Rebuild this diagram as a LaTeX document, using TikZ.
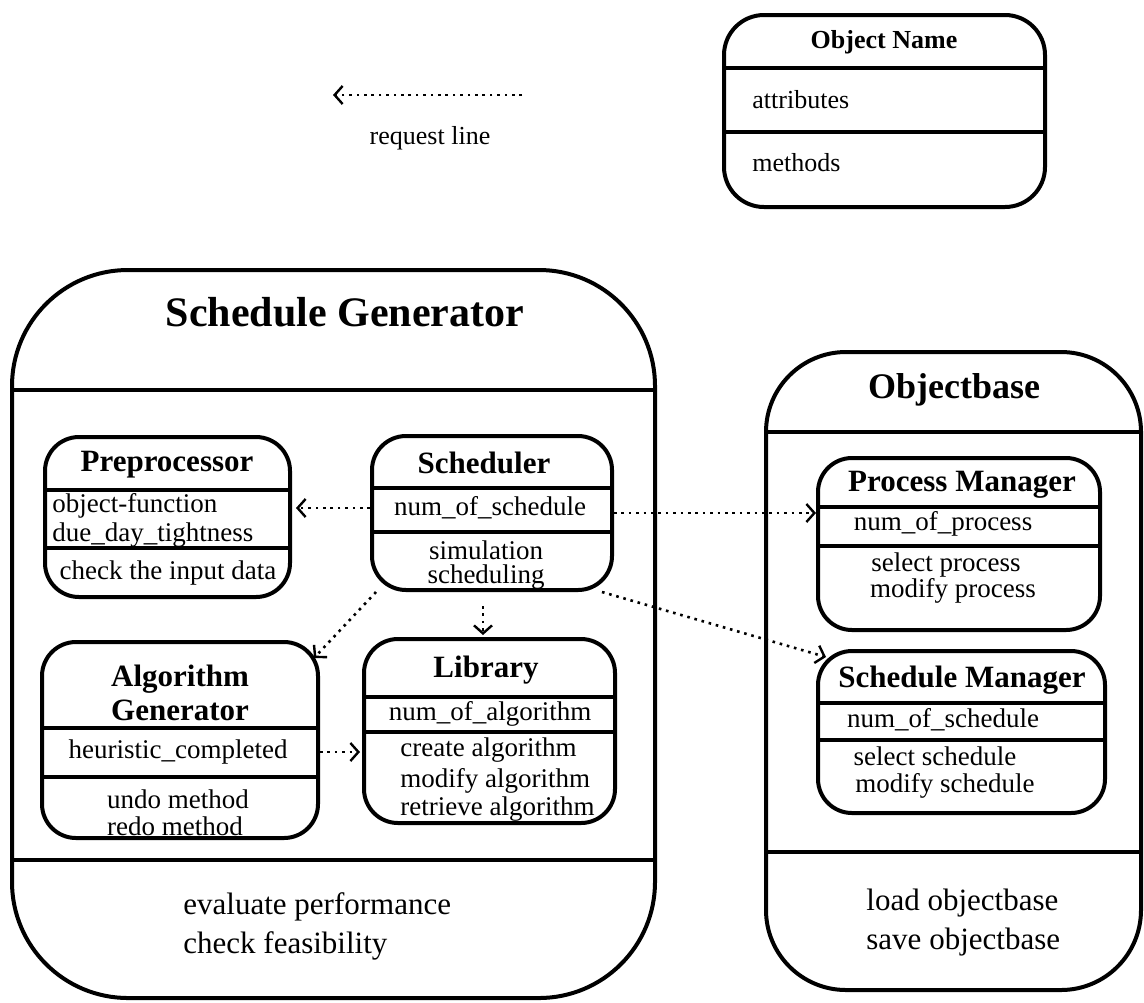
\documentclass[tikz,border=0pt]{standalone}
\usepackage{fontspec}
\setmainfont{Liberation Serif}
\usetikzlibrary{arrows.meta}
\begin{document}
\begin{tikzpicture}[x=0.5pt,y=-0.5pt,
  frame/.style={draw, line width=2pt, rectangle, inner sep=0pt},
  obj/.style={frame, rounded corners=17pt},
  sep/.style={line width=2pt},
  bigttl/.style={font=\fontsize{21}{23}\selectfont\bfseries, inner sep=0pt},
  ttl/.style={font=\fontsize{15.5}{17}\selectfont\bfseries, inner sep=0pt},
  txt/.style={font=\fontsize{13.5}{14.5}\selectfont, inner sep=0pt},
  legtxt/.style={font=\fontsize{13}{14}\selectfont, inner sep=0pt},
  foot/.style={font=\fontsize{15.5}{19.5}\selectfont, inner sep=0pt, align=left},
  req/.style={line width=1.3pt, dash pattern=on 1.3pt off 2.4pt,
    -{Straight Barb[length=4pt,width=9pt,line width=1.2pt]}},
]
\useasboundingbox (0,0) rectangle (1144,1002);

% ---------- legend ----------
\coordinate (rqs) at (522,95);
\coordinate (rqe) at (333,95);
\draw[req] (rqs) -- (rqe);
\node[legtxt] (rqlabel) at (430,138) {request line};

\node[frame, rounded corners=20pt, minimum width=160.5pt, minimum height=96pt] (leg) at (884.5,111) {};
\draw[sep] (leg.west |- 0,68) -- (leg.east |- 0,68);
\draw[sep] (leg.west |- 0,132) -- (leg.east |- 0,132);
\node[legtxt, font=\fontsize{13}{14}\selectfont\bfseries] (legname) at (884,42) {Object Name};
\node[legtxt, anchor=west] (legattr) at (752,100) {attributes};
\node[legtxt, anchor=west] (legmeth) at (752,163) {methods};

% ---------- Schedule Generator ----------
\node[frame, rounded corners=58pt, minimum width=321.5pt, minimum height=364pt] (sg) at (333.5,634) {};
\draw[sep] (sg.west |- 0,390) -- (sg.east |- 0,390);
\draw[sep] (sg.west |- 0,860) -- (sg.east |- 0,860);
\node[bigttl] (sgname) at (345,312) {Schedule Generator};
\node[foot, anchor=west] (sgmeth) at (183,926) {evaluate performance\\check feasibility};

% Preprocessor
\node[obj, minimum width=122.5pt, minimum height=80pt] (pre) at (167.5,517) {};
\draw[sep] (pre.west |- 0,490) -- (pre.east |- 0,490);
\draw[sep] (pre.west |- 0,548) -- (pre.east |- 0,548);
\node[ttl] (prename) at (167,465) {Preprocessor};
\node[txt, anchor=west] (prea1) at (52,506) {object-function};
\node[txt, anchor=west] (prea2) at (52,535) {due\_day\_tightness};
\node[txt] (prem1) at (168,573) {check the input data};

% Scheduler
\node[obj, minimum width=120pt, minimum height=77pt] (sch) at (492,513) {};
\draw[sep] (sch.west |- 0,488) -- (sch.east |- 0,488);
\draw[sep] (sch.west |- 0,532) -- (sch.east |- 0,532);
\node[ttl] (schname) at (484,463) {Scheduler};
\node[txt] (scha1) at (490,508) {num\_of\_schedule};
\node[txt] (schm1) at (486,550) {simulation};
\node[txt] (schm2) at (486,577) {scheduling};

% Algorithm Generator
\node[obj, minimum width=138pt, minimum height=98pt] (ag) at (180,740) {};
\draw[sep] (ag.west |- 0,728) -- (ag.east |- 0,728);
\draw[sep] (ag.west |- 0,777) -- (ag.east |- 0,777);
\node[ttl, align=center, font=\fontsize{15.5}{17}\selectfont\bfseries] (agname) at (180,693) {Algorithm\\Generator};
\node[txt] (aga1) at (178,752) {heuristic\_completed};
\node[txt] (agm1) at (178,799) {undo method};
\node[txt] (agm2) at (175,826) {redo method};

% Library
\node[obj, minimum width=125.5pt, minimum height=92pt] (lib) at (489.5,731) {};
\draw[sep] (lib.west |- 0,697) -- (lib.east |- 0,697);
\draw[sep] (lib.west |- 0,732) -- (lib.east |- 0,732);
\node[ttl] (libname) at (486,670) {Library};
\node[txt] (liba1) at (490,714) {num\_of\_algorithm};
\node[txt, anchor=west] (libm1) at (400,750) {create algorithm};
\node[txt, anchor=west] (libm2) at (400,781) {modify algorithm};
\node[txt, anchor=west] (libm3) at (400,809) {retrieve algorithm};

% ---------- Objectbase ----------
\node[frame, rounded corners=40pt, minimum width=187.5pt, minimum height=319pt] (ob) at (953.5,671) {};
\draw[sep] (ob.west |- 0,432) -- (ob.east |- 0,432);
\draw[sep] (ob.west |- 0,852) -- (ob.east |- 0,852);
\node[bigttl, font=\fontsize{18}{20}\selectfont\bfseries] (obname) at (954,390) {Objectbase};
\node[foot, anchor=west] (obmeth) at (866,923) {load objectbase\\save objectbase};

% Process Manager
\node[obj, minimum width=141pt, minimum height=86pt] (pm) at (959,544) {};
\draw[sep] (pm.west |- 0,507) -- (pm.east |- 0,507);
\draw[sep] (pm.west |- 0,546) -- (pm.east |- 0,546);
\node[ttl] (pmname) at (962,485) {Process Manager};
\node[txt] (pma1) at (943,524) {num\_of\_process};
\node[txt] (pmm1) at (946,565) {select process};
\node[txt] (pmm2) at (953,591) {modify process};

% Schedule Manager
\node[obj, minimum width=143.5pt, minimum height=81pt] (sm) at (961.5,732) {};
\draw[sep] (sm.west |- 0,703) -- (sm.east |- 0,703);
\draw[sep] (sm.west |- 0,740) -- (sm.east |- 0,740);
\node[ttl] (smname) at (962,680) {Schedule Manager};
\node[txt] (sma1) at (943,720) {num\_of\_schedule};
\node[txt] (smm1) at (935,756) {select schedule};
\node[txt] (smm2) at (945,786) {modify schedule};

% ---------- request lines ----------
\draw[req, shorten >=2pt] ([yshift=2.5pt]sch.west) -- ([yshift=2.5pt]sch.west -| pre.east);
\draw[req] (sch.east) -- (sch.east -| pm.west);
\draw[req] ([xshift=-6pt]sch.south east) -- ([shift={(5pt,-4pt)}]sm.north west);
\draw[req] ([xshift=3pt]sch.south west) -- ([shift={(-3pt,-9pt)}]ag.north east);
\draw[req, shorten <=7pt, shorten >=1pt] ([xshift=-4.5pt]sch.south) -- ([xshift=-4.5pt]sch.south |- lib.north);
\draw[req, shorten >=1pt] ([yshift=-6pt]ag.east) -- ([yshift=-6pt]ag.east -| lib.west);
\end{tikzpicture}
\end{document}
